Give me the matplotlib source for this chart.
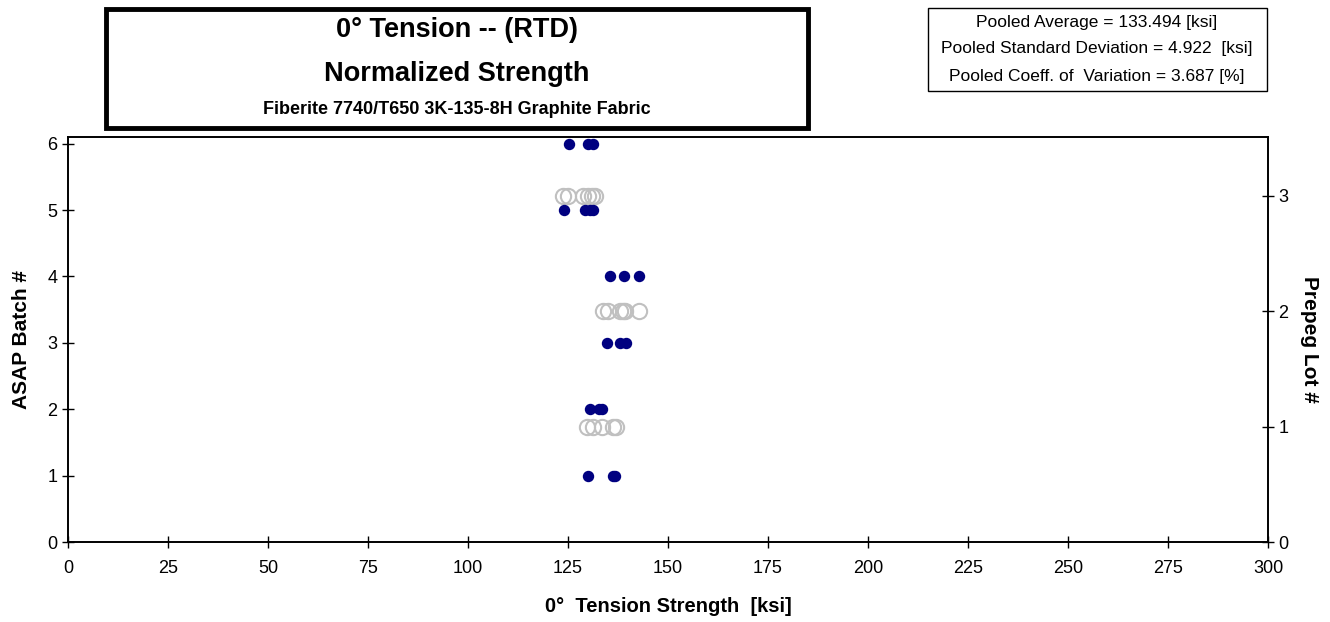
import numpy as np
import matplotlib.pyplot as plt
from matplotlib.patches import Rectangle

plt.rcParams['font.family'] = ['Liberation Sans', 'DejaVu Sans']

# strength values [ksi] per ASAP batch
batch_vals = {
    1: [129.9, 136.3, 136.7],
    2: [130.5, 132.8, 133.4],
    3: [134.7, 138.0, 139.5],
    4: [135.5, 139.0, 142.8],
    5: [124.0, 129.3, 130.5, 131.2],
    6: [125.3, 130.0, 131.2],
}
# prepreg lots (pooled from batches)
lot_vals = {
    1: [129.7, 131.3, 133.4, 136.3, 137.0],
    2: [133.8, 135.0, 138.0, 138.8, 139.3, 142.8],
    3: [123.8, 125.0, 128.8, 130.0, 131.0, 131.7],
}

stats_lines = ["Pooled Average = 133.494 [ksi]",
               "Pooled Standard Deviation = 4.922  [ksi]",
               "Pooled Coeff. of  Variation = 3.687 [%]"]
title_lines = ["0° Tension -- (RTD)", "Normalized Strength",
               "Fiberite 7740/T650 3K-135-8H Graphite Fabric"]

fig = plt.figure(figsize=(13.3, 6.22), dpi=100)
ax = fig.add_axes([0.0511, 0.1286, 0.9023, 0.6511])
ax2 = ax.twinx()

for b, vals in batch_vals.items():
    ax.plot(vals, [b] * len(vals), 'o', color='#000080', ms=7.2, zorder=3)
for l, vals in lot_vals.items():
    ax2.plot(vals, [l] * len(vals), 'o', mfc='none', mec='#C0C0C0',
             ms=11, mew=1.5)

ax.set_zorder(ax2.get_zorder() + 1)
ax.patch.set_visible(False)

ax.set_xlim(0, 300)
ax.set_ylim(0, 6.1)
ax2.set_ylim(0, 3.51)
ax.set_xticks(np.arange(0, 301, 25))
ax.set_yticks(range(0, 7))
ax2.set_yticks(range(0, 4))

for a in (ax, ax2):
    a.tick_params(direction='inout', length=8, width=1, labelsize=13,
                  colors='black')
    for s in a.spines.values():
        s.set_linewidth(1.2)
ax.tick_params(axis='x', pad=9)

ax.set_xlabel("0°  Tension Strength  [ksi]", fontsize=14.5,
              fontweight='bold', labelpad=14)
ax.set_ylabel("ASAP Batch #", fontsize=15, fontweight='bold', labelpad=12)
ax2.set_ylabel("Prepeg Lot #", fontsize=15, fontweight='bold', rotation=-90,
               labelpad=22)

# title box
fig.patches.append(Rectangle((106 / 1330, 1 - 128 / 622), 702 / 1330,
                             119 / 622, transform=fig.transFigure,
                             fill=False, lw=3.5, ec='black'))
fig.text(457 / 1330, 1 - 30 / 622, title_lines[0], ha='center', va='center',
         fontsize=19.5, fontweight='bold')
fig.text(457 / 1330, 1 - 74 / 622, title_lines[1], ha='center', va='center',
         fontsize=19.5, fontweight='bold')
fig.text(457 / 1330, 1 - 109 / 622, title_lines[2], ha='center', va='center',
         fontsize=13, fontweight='bold')

# stats box
fig.patches.append(Rectangle((928 / 1330, 1 - 91 / 622), 339 / 1330,
                             83 / 622, transform=fig.transFigure,
                             fill=False, lw=1, ec='black'))
for i, line in enumerate(stats_lines):
    fig.text(1097 / 1330, 1 - (22 + 27 * i) / 622, line, ha='center',
             va='center', fontsize=12.5)

fig.savefig("out.png", dpi=100)
